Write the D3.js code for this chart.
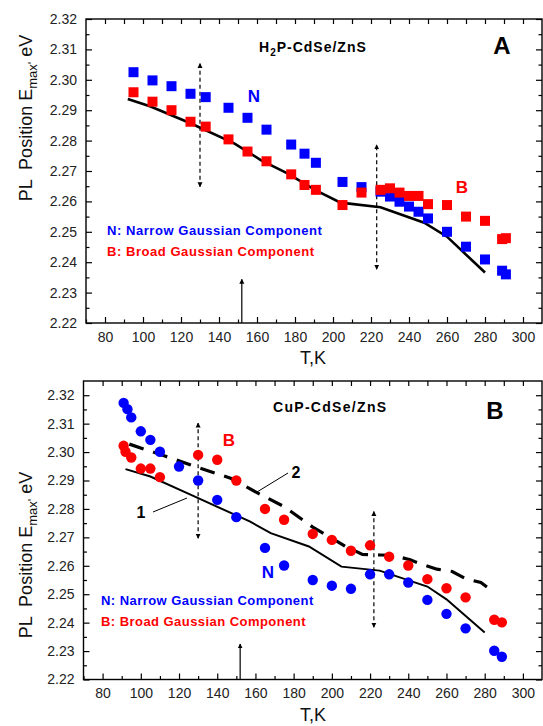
<!DOCTYPE html>
<html>
<head>
<meta charset="utf-8">
<script src="https://cdn.jsdelivr.net/npm/d3@7"></script>
<style>
body { margin: 0; background: #fff; }
text { font-family: Arial, "Liberation Sans", sans-serif; }
.ylab { white-space: pre; }
</style>
</head>
<body>
<div id="chart"></div>
<script>
// ---- data ----
var xTicks = [80, 100, 120, 140, 160, 180, 200, 220, 240, 260, 280, 300];
var yTicks = [2.22, 2.23, 2.24, 2.25, 2.26, 2.27, 2.28, 2.29, 2.30, 2.31, 2.32];

// panel A (H2P-CdSe/ZnS), squares
var tA = [95, 105, 115, 125, 133, 145, 155, 165, 178, 185, 191, 205, 215, 225, 230, 235, 240, 245, 250, 260, 270, 280, 289, 291];
var narrowA = [2.3025, 2.2998, 2.2979, 2.2954, 2.2943, 2.2908, 2.2875, 2.2836, 2.2787, 2.2757, 2.2727, 2.2664, 2.2647, 2.2632, 2.2616, 2.2599, 2.2583, 2.2566, 2.2544, 2.2500, 2.2451, 2.2409, 2.2372, 2.2360];
var broadA = [2.2959, 2.2928, 2.2900, 2.2862, 2.2846, 2.2804, 2.2764, 2.2732, 2.2689, 2.2654, 2.2638, 2.2588, 2.2629, 2.2638, 2.2643, 2.2629, 2.2618, 2.2618, 2.2591, 2.2588, 2.2550, 2.2536, 2.2476, 2.2479];
var curveAT = [92, 104, 125, 148, 162, 176, 191, 204, 225, 248, 260, 280];
var curveAE = [2.2937, 2.2912, 2.2857, 2.2791, 2.2736, 2.2692, 2.2636, 2.2596, 2.2581, 2.2530, 2.2484, 2.2366];

// panel B (CuP-CdSe/ZnS), circles
var tNarrowB = [91, 93, 95, 100, 105, 110, 120, 130, 140, 150, 165, 175, 190, 200, 210, 220, 230, 240, 250, 260, 270, 285, 289];
var narrowB = [2.3173, 2.3151, 2.3122, 2.3073, 2.3043, 2.3001, 2.2949, 2.2900, 2.2832, 2.2771, 2.2663, 2.2601, 2.2550, 2.2530, 2.2519, 2.2570, 2.2570, 2.2541, 2.2480, 2.2431, 2.2380, 2.2301, 2.2280];
var tBroadB = [91, 92, 95, 100, 105, 110, 130, 140, 150, 165, 175, 190, 200, 210, 220, 230, 240, 250, 260, 270, 285, 289];
var broadB = [2.3022, 2.3001, 2.2981, 2.2942, 2.2942, 2.2912, 2.2990, 2.2973, 2.2900, 2.2800, 2.2762, 2.2712, 2.2691, 2.2653, 2.2672, 2.2632, 2.2601, 2.2553, 2.2521, 2.2489, 2.2410, 2.2401];
var curve1T = [92, 105, 126, 157, 168, 188, 205, 225, 250, 260, 280];
var curve1E = [2.2940, 2.2914, 2.2850, 2.2756, 2.2715, 2.2668, 2.2597, 2.2583, 2.2527, 2.2482, 2.2365];
var curve2T = [94, 113, 130, 147, 162, 175, 190, 207, 216, 225, 232, 241, 248, 255, 263, 270, 278, 285];
var curve2E = [2.3028, 2.2985, 2.2946, 2.2908, 2.2853, 2.2808, 2.2736, 2.2669, 2.2640, 2.2638, 2.2637, 2.2621, 2.2603, 2.2588, 2.2580, 2.2555, 2.2541, 2.2506];

// vertical arrows [T, from E, to E]
var arrowsA = [[130, 2.2648, 2.3054, 'dash'], [223, 2.2377, 2.2786, 'dash'], [152, 2.22, 2.2344, 'solid']];
var arrowsB = [[130, 2.2697, 2.3102, 'dash'], [222, 2.2384, 2.2791, 'dash'], [152, 2.22, 2.2325, 'solid']];

var blue = '#0000ff', red = '#ff0000';

var svg = d3.select('#chart').append('svg')
    .attr('width', 543)
    .attr('height', 726);

// arrowhead
svg.append('defs').append('marker')
    .attr('id', 'head')
    .attr('viewBox', '0 0 10 10')
    .attr('refX', 9).attr('refY', 5)
    .attr('markerUnits', 'userSpaceOnUse')
    .attr('markerWidth', 5).attr('markerHeight', 8)
    .attr('orient', 'auto-start-reverse')
    .append('path')
    .attr('d', 'M0,0 L10,5 L0,10 Z')
    .attr('fill', '#000');

function zip(a, b) { return a.map(function(v, i) { return [v, b[i]] }) }

function panel(o) {
    var x = d3.scaleLinear().domain([70, 310]).range([o.left, 542]);
    var y = d3.scaleLinear().domain(o.yDom).range([o.bottom, o.top]);
    var g = svg.append('g');

    var yMinor = yTicks.slice(1).map(function(v, i) { return (v + yTicks[i]) / 2 });
    var xMinor = xTicks.map(function(v) { return v + 10 }).concat([70]).filter(function(v) { return v < 310 });
    var xAll = xTicks.concat(xMinor);

    function clean(s) { s.select('.domain').remove(); s.selectAll('line').attr('stroke-width', 1.2) }

    // bottom
    g.append('g').attr('transform', 'translate(0,' + o.bottom + ')')
        .call(d3.axisBottom(x).tickValues(xTicks).tickSize(-6).tickPadding(9).tickFormat(d3.format('d')))
        .call(clean)
        .selectAll('text').style('font-size', '14px').attr('fill', '#222');
    g.append('g').attr('transform', 'translate(0,' + o.bottom + ')')
        .call(d3.axisBottom(x).tickValues(xMinor).tickSize(-3.5).tickFormat(''))
        .call(clean);
    // top
    g.append('g').attr('transform', 'translate(0,' + o.top + ')')
        .call(d3.axisTop(x).tickValues(xAll.filter(function(v) { return v > 70 })).tickSize(-5).tickFormat(''))
        .call(clean);
    // left
    g.append('g').attr('transform', 'translate(' + o.left + ',0)')
        .call(d3.axisLeft(y).tickValues(yTicks).tickSize(-6).tickPadding(9).tickFormat(d3.format('.2f')))
        .call(clean)
        .selectAll('text').style('font-size', '14px').attr('fill', '#222');
    g.append('g').attr('transform', 'translate(' + o.left + ',0)')
        .call(d3.axisLeft(y).tickValues(yMinor).tickSize(-3.5).tickFormat(''))
        .call(clean);
    // right
    g.append('g').attr('transform', 'translate(542,0)')
        .call(d3.axisRight(y).tickValues(yTicks).tickSize(-6).tickFormat(''))
        .call(clean);
    g.append('g').attr('transform', 'translate(542,0)')
        .call(d3.axisRight(y).tickValues(yMinor).tickSize(-3.5).tickFormat(''))
        .call(clean);

    // frame
    g.append('rect')
        .attr('x', o.left).attr('y', o.top)
        .attr('width', 542 - o.left).attr('height', o.bottom - o.top)
        .attr('fill', 'none').attr('stroke', '#000').attr('stroke-width', 1.4);

    // axis titles
    g.append('text')
        .attr('x', 313).attr('y', o.bottom + 41)
        .attr('text-anchor', 'middle')
        .style('font-size', '18px').attr('fill', '#111')
        .text('T,K');
    var yl = g.append('text')
        .attr('class', 'ylab')
        .attr('transform', 'translate(32,' + o.ylabelY + ') rotate(-90)')
        .attr('text-anchor', 'middle')
        .style('font-size', '18px').attr('fill', '#111');
    yl.append('tspan').text('PL  Position E');
    yl.append('tspan').attr('dy', 5).style('font-size', '13px').text("max'");
    yl.append('tspan').attr('dy', -5).text(' eV');

    var line = d3.line().x(function(d) { return x(d[0]) }).y(function(d) { return y(d[1]) });

    // arrows
    o.arrows.forEach(function(a) {
        g.append('line')
            .attr('x1', x(a[0])).attr('x2', x(a[0]))
            .attr('y1', y(a[1])).attr('y2', y(a[2]))
            .attr('stroke', '#000').attr('stroke-width', 1.2)
            .attr('stroke-dasharray', a[3] == 'dash' ? '4,3' : null)
            .attr('marker-end', 'url(#head)')
            .attr('marker-start', a[3] == 'dash' ? 'url(#head)' : null);
    });

    return { g: g, x: x, y: y, line: line };
}

// ---------- panel A ----------
var A = panel({ left: 86, top: 19, bottom: 323, yDom: [2.22, 2.32], ylabelY: 118, arrows: arrowsA });

A.g.append('path')
    .datum(zip(curveAT, curveAE))
    .attr('d', A.line)
    .attr('fill', 'none').attr('stroke', '#000').attr('stroke-width', 2.6);

A.g.append('g').selectAll('rect')
    .data(zip(tA, narrowA))
    .enter().append('rect')
    .attr('x', function(d) { return A.x(d[0]) - 5 })
    .attr('y', function(d) { return A.y(d[1]) - 5 })
    .attr('width', 10).attr('height', 10)
    .attr('fill', blue);

A.g.append('g').selectAll('rect')
    .data(zip(tA, broadA))
    .enter().append('rect')
    .attr('x', function(d) { return A.x(d[0]) - 5 })
    .attr('y', function(d) { return A.y(d[1]) - 5 })
    .attr('width', 10).attr('height', 10)
    .attr('fill', red);

var tA1 = A.g.append('text').attr('x', 259).attr('y', 52)
    .style('font-size', '14px').style('font-weight', 'bold').style('letter-spacing', '1px');
tA1.append('tspan').text('H');
tA1.append('tspan').attr('dy', 4).style('font-size', '10px').text('2');
tA1.append('tspan').attr('dy', -4).text('P-CdSe/ZnS');

A.g.append('text').attr('x', 502).attr('y', 54).attr('text-anchor', 'middle')
    .style('font-size', '24px').style('font-weight', 'bold').text('A');
A.g.append('text').attr('x', 254).attr('y', 102).attr('text-anchor', 'middle')
    .style('font-size', '17px').style('font-weight', 'bold').attr('fill', blue).text('N');
A.g.append('text').attr('x', 462).attr('y', 193).attr('text-anchor', 'middle')
    .style('font-size', '17px').style('font-weight', 'bold').attr('fill', red).text('B');

A.g.append('text').attr('x', 107).attr('y', 235)
    .style('font-size', '13px').style('font-weight', 'bold').style('letter-spacing', '0.55px')
    .attr('fill', blue).text('N: Narrow Gaussian Component');
A.g.append('text').attr('x', 107).attr('y', 256)
    .style('font-size', '13px').style('font-weight', 'bold').style('letter-spacing', '0.55px')
    .attr('fill', red).text('B: Broad Gaussian Component');

// ---------- panel B ----------
var B = panel({ left: 83.5, top: 381, bottom: 679.5, yDom: [2.22, 2.325], ylabelY: 555, arrows: arrowsB });

B.g.append('path')
    .datum(zip(curve1T, curve1E))
    .attr('d', B.line)
    .attr('fill', 'none').attr('stroke', '#000').attr('stroke-width', 2);

B.g.append('path')
    .datum(zip(curve2T, curve2E))
    .attr('d', B.line)
    .attr('fill', 'none').attr('stroke', '#000').attr('stroke-width', 3.2)
    .attr('stroke-dasharray', '15,10');

B.g.append('g').selectAll('circle')
    .data(zip(tNarrowB, narrowB))
    .enter().append('circle')
    .attr('cx', function(d) { return B.x(d[0]) })
    .attr('cy', function(d) { return B.y(d[1]) })
    .attr('r', 5.2)
    .attr('fill', blue);

B.g.append('g').selectAll('circle')
    .data(zip(tBroadB, broadB))
    .enter().append('circle')
    .attr('cx', function(d) { return B.x(d[0]) })
    .attr('cy', function(d) { return B.y(d[1]) })
    .attr('r', 5.2)
    .attr('fill', red);

B.g.append('text').attr('x', 273).attr('y', 412)
    .style('font-size', '14px').style('font-weight', 'bold').style('letter-spacing', '1.3px')
    .text('CuP-CdSe/ZnS');
B.g.append('text').attr('x', 495).attr('y', 419).attr('text-anchor', 'middle')
    .style('font-size', '24px').style('font-weight', 'bold').text('B');
B.g.append('text').attr('x', 229).attr('y', 446).attr('text-anchor', 'middle')
    .style('font-size', '17px').style('font-weight', 'bold').attr('fill', red).text('B');
B.g.append('text').attr('x', 268).attr('y', 578).attr('text-anchor', 'middle')
    .style('font-size', '17px').style('font-weight', 'bold').attr('fill', blue).text('N');

// curve labels
B.g.append('text').attr('x', 141).attr('y', 518).attr('text-anchor', 'middle')
    .style('font-size', '16px').style('font-weight', 'bold').text('1');
B.g.append('line').attr('x1', 153).attr('y1', 512).attr('x2', 187).attr('y2', 498)
    .attr('stroke', '#000').attr('stroke-width', 1);
B.g.append('text').attr('x', 296).attr('y', 478).attr('text-anchor', 'middle')
    .style('font-size', '16px').style('font-weight', 'bold').text('2');
B.g.append('line').attr('x1', 288).attr('y1', 473).attr('x2', 257).attr('y2', 492)
    .attr('stroke', '#000').attr('stroke-width', 1);

B.g.append('text').attr('x', 101).attr('y', 605)
    .style('font-size', '13px').style('font-weight', 'bold').style('letter-spacing', '0.45px')
    .attr('fill', blue).text('N: Narrow Gaussian Component');
B.g.append('text').attr('x', 101).attr('y', 626)
    .style('font-size', '13px').style('font-weight', 'bold').style('letter-spacing', '0.45px')
    .attr('fill', red).text('B: Broad Gaussian Component');
</script>
</body>
</html>
